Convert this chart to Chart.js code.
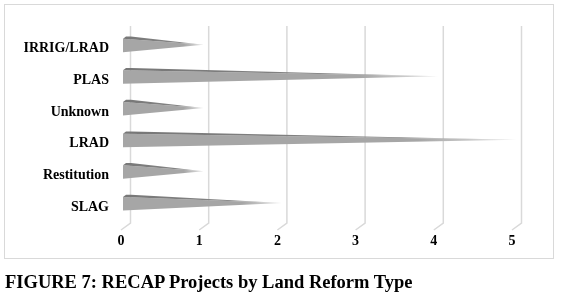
<!DOCTYPE html>
<html>
<head>
<meta charset="utf-8">
<script src="https://cdn.jsdelivr.net/npm/chart.js@4/dist/chart.umd.min.js"></script>
<style>
  html, body { margin: 0; padding: 0; background: #fff; }
  #wrap { position: relative; width: 563px; height: 296px; overflow: hidden; }
  #c { position: absolute; left: 0; top: 0; }
  #frame { position: absolute; left: 4px; top: 4px; width: 548px; height: 253px; border: 1.5px solid #d9d9d9; }
  #caption { position: absolute; left: 5px; top: 272px; font: bold 18.5px "Liberation Serif", "Times New Roman", serif; color: #000; white-space: nowrap; }
</style>
</head>
<body>
<div id="wrap">
  <div id="frame"></div>
  <canvas id="c" width="563" height="296"></canvas>
  <div id="caption">FIGURE 7: RECAP Projects by Land Reform Type</div>
</div>
<script>
const categories = ["IRRIG/LRAD", "PLAS", "Unknown", "LRAD", "Restitution", "SLAG"];
const projectCounts = [1, 4, 1, 5, 1, 2];
const xTickValues = [0, 1, 2, 3, 4, 5];

const DEPTH_X = 9.5, DEPTH_Y = 7;

const gridPlugin = {
  id: 'grid3d',
  beforeDatasetsDraw(chart) {
    const ctx = chart.ctx, xs = chart.scales.x, area = chart.chartArea;
    ctx.save();
    ctx.strokeStyle = '#d9d9d9';
    ctx.lineWidth = 1.5;
    xTickValues.forEach(v => {
      const x = xs.getPixelForValue(v) + DEPTH_X;
      ctx.beginPath();
      ctx.moveTo(x, area.top - 7);
      ctx.lineTo(x, area.bottom);
      ctx.lineTo(x - DEPTH_X, area.bottom + DEPTH_Y);
      ctx.stroke();
    });
    ctx.restore();
  }
};

const conePlugin = {
  id: 'cones',
  afterDatasetsDraw(chart) {
    const ctx = chart.ctx;
    const meta = chart.getDatasetMeta(0);
    ctx.save();
    meta.data.forEach(el => {
      const x0 = el.base + 2;
      const tipX = el.x + 4.5;
      const c = el.y + 0.5;
      const tipY = c - 4.7;
      const g = ctx.createLinearGradient(x0, 0, tipX, 0);
      g.addColorStop(0, '#a6a6a6');
      g.addColorStop(0.75, '#a6a6a6');
      g.addColorStop(1, '#e6e6e6');
      ctx.fillStyle = g;
      ctx.beginPath();
      ctx.moveTo(x0, c - 10.7);
      ctx.lineTo(x0, c + 2.8);
      ctx.lineTo(tipX, tipY);
      ctx.closePath();
      ctx.fill();
      const g2 = ctx.createLinearGradient(x0, 0, tipX, 0);
      g2.addColorStop(0, '#777777');
      g2.addColorStop(0.7, '#858585');
      g2.addColorStop(1, '#e0e0e0');
      ctx.fillStyle = g2;
      ctx.beginPath();
      ctx.moveTo(x0, c - 10.7);
      ctx.lineTo(x0 + 3, c - 12.9);
      ctx.lineTo(x0 + 8, c - 12.9);
      ctx.lineTo(tipX, tipY);
      ctx.closePath();
      ctx.fill();
    });
    ctx.restore();
  }
};

const tickFont = { family: "'Liberation Serif', 'Times New Roman', serif", size: 14, weight: 'bold' };

new Chart(document.getElementById('c'), {
  type: 'bar',
  data: {
    labels: categories,
    datasets: [{
      data: projectCounts,
      backgroundColor: 'rgba(0,0,0,0)',
      borderWidth: 0,
      categoryPercentage: 0.45,
      barPercentage: 1
    }]
  },
  options: {
    indexAxis: 'y',
    responsive: false,
    animation: false,
    devicePixelRatio: 1,
    layout: { padding: { top: 33, right: 51, left: 0, bottom: 0 } },
    plugins: { legend: { display: false }, tooltip: { enabled: false }, title: { display: false } },
    scales: {
      x: {
        type: 'linear',
        min: 0, max: 5,
        border: { display: false },
        grid: { display: false, drawTicks: false },
        ticks: { stepSize: 1, color: '#000', font: tickFont, padding: 10 },
        afterFit(axis) { axis.height = 73; }
      },
      y: {
        border: { display: false },
        grid: { display: false, drawTicks: false },
        ticks: { color: '#000', font: tickFont, padding: 12 },
        afterFit(axis) { axis.width = 121; }
      }
    }
  },
  plugins: [gridPlugin, conePlugin]
});
</script>
</body>
</html>
